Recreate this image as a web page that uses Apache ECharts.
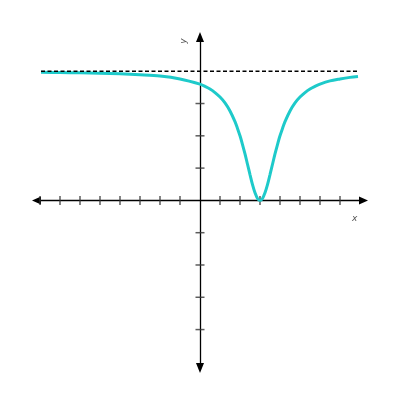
<!DOCTYPE html>
<html>
<head>
<meta charset="utf-8">
<script src="https://cdn.jsdelivr.net/npm/echarts@6/dist/echarts.min.js"></script>
<style>
  html, body { margin: 0; padding: 0; background: #fff; }
  #chart { width: 400px; height: 400px; }
</style>
</head>
<body>
<div id="chart"></div>
<script>
// curve points [x, y]
var curveX = [-7.95, -7, -6, -5, -4, -3, -2, -1, 0, 0.25, 0.5, 0.75, 1, 1.25, 1.5, 1.75, 1.875,
  2, 2.125, 2.25, 2.375, 2.5, 2.625, 2.75, 2.875, 3,
  3.125, 3.25, 3.375, 3.5, 3.625, 3.75, 3.875, 4, 4.125, 4.25, 4.5, 4.75, 5, 5.25, 5.5, 5.75, 6, 6.5, 7, 7.5, 7.9];
var curveY = [3.97, 3.96, 3.95, 3.94, 3.92, 3.89, 3.85, 3.76, 3.6, 3.53, 3.45, 3.34, 3.2, 3.02, 2.77, 2.44, 2.23,
  2.0, 1.73, 1.44, 1.12, 0.8, 0.49, 0.24, 0.06, 0,
  0.06, 0.24, 0.49, 0.8, 1.12, 1.44, 1.73, 2.0, 2.23, 2.44, 2.77, 3.02, 3.2, 3.34, 3.45, 3.53, 3.6, 3.7, 3.76, 3.81, 3.84];

// horizontal asymptote
var asymX = [-7.95, 7.9];
var asymY = 4;

var xTicks = [-8, -7, -6, -5, -4, -3, -2, -1, 1, 2, 3, 4, 5, 6, 7];
var yTicks = [-4, -3, -2, -1, 1, 2, 3];

var myChart = echarts.init(document.getElementById('chart'));

var curve = curveX.map(function (x, i) { return [x, curveY[i]]; });

var option = {
  animation: false,
  grid: { left: 36.5, top: 37, width: 327, height: 331 },
  xAxis: {
    type: 'value',
    min: -8.175,
    max: 8.175,
    axisLine: {
      onZero: true,
      symbol: ['triangle', 'triangle'],
      symbolSize: [8, 9],
      lineStyle: { color: '#000', width: 1.3 }
    },
    axisTick: { show: false },
    axisLabel: { show: false },
    splitLine: { show: false }
  },
  yAxis: {
    type: 'value',
    min: -5.19,
    max: 5.06,
    axisLine: {
      onZero: true,
      symbol: ['triangle', 'triangle'],
      symbolSize: [8, 10],
      lineStyle: { color: '#000', width: 1.3 }
    },
    axisTick: { show: false },
    axisLabel: { show: false },
    splitLine: { show: false }
  },
  graphic: [
    {
      type: 'text', left: 352, top: 214,
      style: { text: 'x', font: 'italic 9px "DejaVu Sans"', fill: '#555' }
    },
    {
      type: 'text', x: 184, y: 41, rotation: Math.PI / 2,
      style: { text: 'y', font: 'italic 9px "DejaVu Sans"', fill: '#555', align: 'center', verticalAlign: 'middle' }
    }
  ],
  series: [
    {
      type: 'scatter',
      symbol: 'rect',
      symbolSize: [1.5, 9],
      itemStyle: { color: '#333' },
      data: xTicks.map(function (v) { return [v, 0]; }),
      z: 1
    },
    {
      type: 'scatter',
      symbol: 'rect',
      symbolSize: [9, 1.5],
      itemStyle: { color: '#333' },
      data: yTicks.map(function (v) { return [0, v]; }),
      z: 1
    },
    {
      type: 'line',
      showSymbol: false,
      data: asymX.map(function (x) { return [x, asymY]; }),
      lineStyle: { color: '#000', width: 1.3, type: [4, 2.5] },
      z: 3
    },
    {
      type: 'line',
      smooth: 0.3,
      showSymbol: false,
      data: curve,
      lineStyle: { color: '#1ECACA', width: 3 },
      z: 2
    }
  ]
};

myChart.setOption(option);
</script>
</body>
</html>
